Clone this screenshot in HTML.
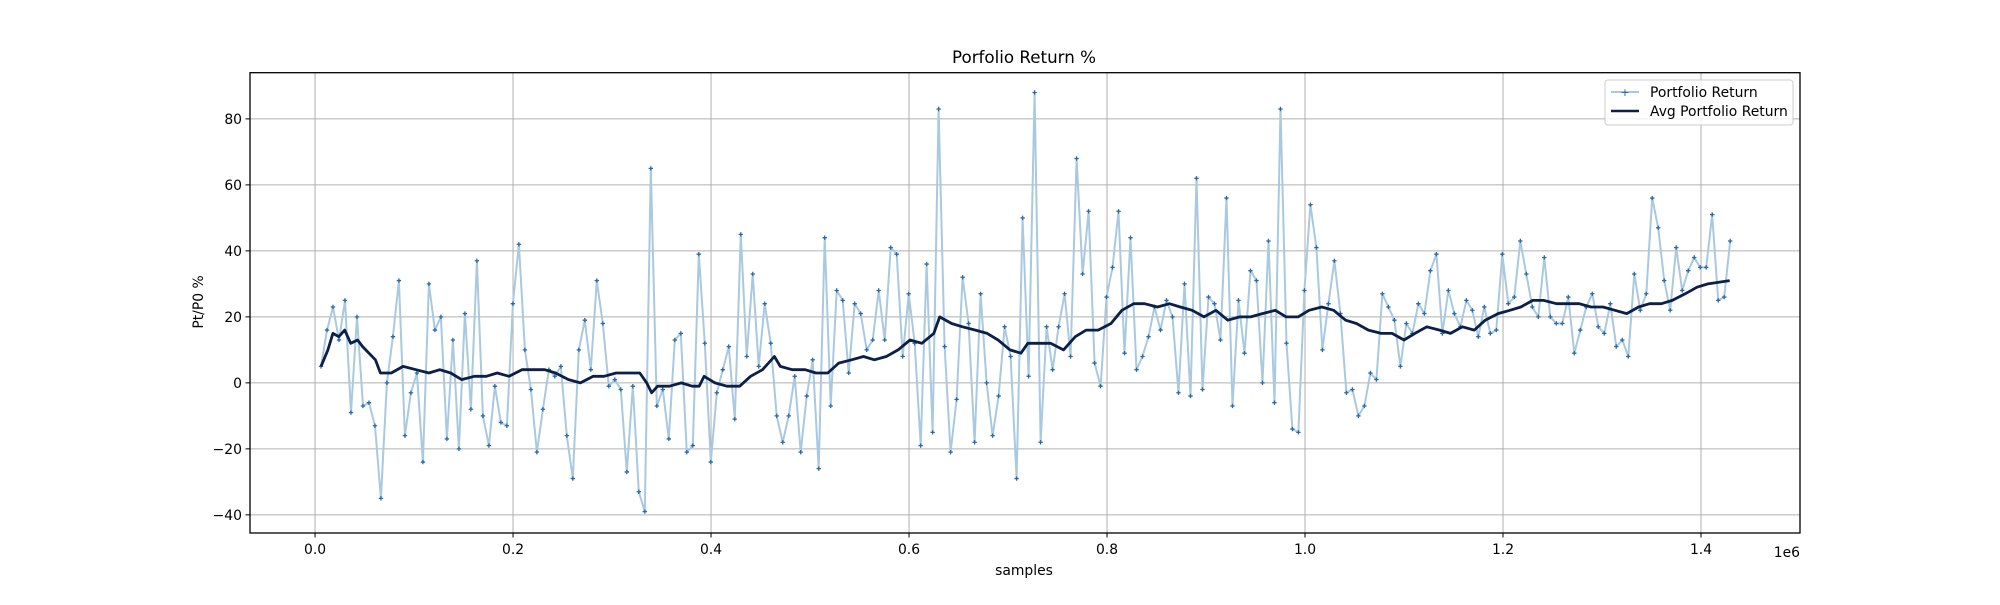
<!DOCTYPE html>
<html><head><meta charset="utf-8"><style>
body{margin:0;background:#fff;}
svg text{font-family:"DejaVu Sans","Liberation Sans",sans-serif;}
</style></head><body>
<svg id="chart" width="2000" height="600" xmlns="http://www.w3.org/2000/svg">
<rect width="2000" height="600" fill="#fff"/>
<g id="grid"></g>
<g id="series"></g>
<rect x="250" y="72.7" width="1550" height="460.3" fill="none" stroke="#000" stroke-width="1.3"/>
<g id="axes"></g>
<text x="1024" y="63" font-size="16.7" text-anchor="middle">Porfolio Return %</text>
<text x="1024" y="575" font-size="13.9" text-anchor="middle">samples</text>
<text transform="translate(203,302) rotate(-90)" font-size="13.9" text-anchor="middle">Pt/P0 %</text>
<text x="1800" y="557" font-size="13.9" text-anchor="end">1e6</text>
<g>
<rect x="1605" y="80" width="188" height="45" rx="3" fill="#fff" fill-opacity="0.8" stroke="#ccc"/>
<line x1="1611" y1="92" x2="1639" y2="92" stroke="#a9c9e0" stroke-width="2"/>
<text x="1625" y="96" font-size="11" fill="#1f5f9f" text-anchor="middle">+</text>
<text x="1650" y="97" font-size="13.9">Portfolio Return</text>
<line x1="1611" y1="111" x2="1639" y2="111" stroke="#0b1f47" stroke-width="2.6"/>
<text x="1650" y="116" font-size="13.9">Avg Portfolio Return</text>
</g>
</svg>
<script>
const xTicks=[0,0.2,0.4,0.6,0.8,1.0,1.2,1.4];
const xTickLabels=["0.0","0.2","0.4","0.6","0.8","1.0","1.2","1.4"];
const yTicks=[-40,-20,0,20,40,60,80];
const yTickLabels=["−40","−20","0","20","40","60","80"];
const sampleStartK=6, sampleEndK=1429.5;
const rawValues=[5,16,23,13,25,-9,20,-7,-6,-13,-35,0,14,31,-16,-3,3,-24,30,16,20,-17,13,-20,21,-8,37,-10,-19,-1,-12,-13,24,42,10,-2,-21,-8,4,2,5,-16,-29,10,19,4,31,18,-1,1,-2,-27,-1,-33,-39,65,-7,-2,-17,13,15,-21,-19,39,12,-24,-3,4,11,-11,45,8,33,5,24,12,-10,-18,-10,2,-21,-4,7,-26,44,-7,28,25,3,24,21,10,13,28,13,41,39,8,27,12,-19,36,-15,83,11,-21,-5,32,18,-18,27,0,-16,-4,17,8,-29,50,2,88,-18,17,4,17,27,8,68,33,52,6,-1,26,35,52,9,44,4,8,14,23,16,25,20,-3,30,-4,62,-2,26,24,13,56,-7,25,9,34,31,0,43,-6,83,12,-14,-15,28,54,41,10,24,37,21,-3,-2,-10,-7,3,1,27,23,19,5,18,15,24,21,34,39,15,28,21,17,25,22,14,23,15,16,39,24,26,43,33,23,20,38,20,18,18,26,9,16,23,27,17,15,24,11,13,8,33,22,27,56,47,31,22,41,28,34,38,35,35,51,25,26,43];
const avgSamplesK=[6,13,18,24,30,36,43,48,61,66,77,89,102,115,126,137,148,161,173,184,196,209,220,232,243,256,268,281,292,304,317,328,335,340,346,358,370,381,388,393,404,416,429,440,452,464,470,482,495,506,518,529,542,554,565,577,589,601,613,625,631,643,654,667,679,690,702,713,720,731,743,756,768,779,791,804,815,827,838,851,863,874,886,898,910,922,934,945,957,970,981,993,1004,1017,1029,1041,1052,1064,1077,1088,1100,1111,1123,1136,1147,1159,1171,1182,1195,1207,1218,1230,1241,1254,1266,1277,1289,1301,1313,1325,1337,1348,1360,1371,1384,1396,1407,1429];
const avgValues=[5,10,15,14,16,12,13,11,7,3,3,5,4,3,4,3,1,2,2,3,2,4,4,4,3,1,0,2,2,3,3,3,0,-3,-1,-1,0,-1,-1,2,0,-1,-1,2,4,8,5,4,4,3,3,6,7,8,7,8,10,13,12,15,20,18,17,16,15,13,10,9,12,12,12,10,14,16,16,18,22,24,24,23,24,23,22,20,22,19,20,20,21,22,20,20,22,23,22,19,18,16,15,15,13,15,17,16,15,17,16,19,21,22,23,25,25,24,24,24,23,23,22,21,23,24,24,25,27,29,30,31];

const NS='http://www.w3.org/2000/svg';
const X0=250,X1=1800,Y0=72.7,Y1=533;
const xMin=-0.0657,xMax=1.5,yMin=-45.5,yMax=94;
function xs(v){return X0+(v-xMin)/(xMax-xMin)*(X1-X0);}
function ys(v){return Y1-(v-yMin)/(yMax-yMin)*(Y1-Y0);}
function mk(tag,attrs,parent){const e=document.createElementNS(NS,tag);for(const k in attrs)e.setAttribute(k,attrs[k]);parent.appendChild(e);return e;}
const grid=document.getElementById('grid'),axes=document.getElementById('axes'),series=document.getElementById('series');
xTicks.forEach((t,i)=>{
  const x=xs(t);
  const g=mk('line',{x1:x,x2:x,y1:Y0,y2:Y1,stroke:'#b0b0b0','stroke-width':1},grid);
  
  
  const tk=mk('line',{x1:x,x2:x,y1:Y1,y2:Y1+4.5,stroke:'#000','stroke-width':1},axes);
  
  
  const tl=mk('text',{x:x,y:Y1+21,'font-size':13.9,'text-anchor':'middle'},axes);
  tl.textContent=xTickLabels[i];
  
  
});
yTicks.forEach((t,i)=>{
  const y=ys(t);
  const g=mk('line',{x1:X0,x2:X1,y1:y,y2:y,stroke:'#b0b0b0','stroke-width':1},grid);
  
  
  const tk=mk('line',{x1:X0-4.5,x2:X0,y1:y,y2:y,stroke:'#000','stroke-width':1},axes);
  
  
  const tl=mk('text',{x:X0-8,y:y+5,'font-size':13.9,'text-anchor':'end'},axes);
  tl.textContent=yTickLabels[i];
  
  
});
const N=rawValues.length;
const stepK=(sampleEndK-sampleStartK)/(N-1);
const rawPts=rawValues.map((v,i)=>[xs((sampleStartK+i*stepK)/1000),ys(v)]);
const rl=mk('polyline',{points:rawPts.map(p=>p[0].toFixed(1)+','+p[1].toFixed(1)).join(' '),fill:'none',stroke:'#a9c9e0','stroke-width':2,'stroke-linejoin':'round'},series);


rawPts.forEach(p=>{
  const m=mk('path',{d:`M${p[0]-2.2},${p[1]}h4.4M${p[0]},${p[1]-2.2}v4.4`,stroke:'#2a6aa8','stroke-width':1.3},series);
  
  
});
const avgPts=avgValues.map((v,i)=>xs(avgSamplesK[i]/1000).toFixed(1)+','+ys(v).toFixed(1)).join(' ');
const al=mk('polyline',{points:avgPts,fill:'none',stroke:'#0b1f47','stroke-width':2.8,'stroke-linejoin':'round'},series);


</script>
</body></html>
